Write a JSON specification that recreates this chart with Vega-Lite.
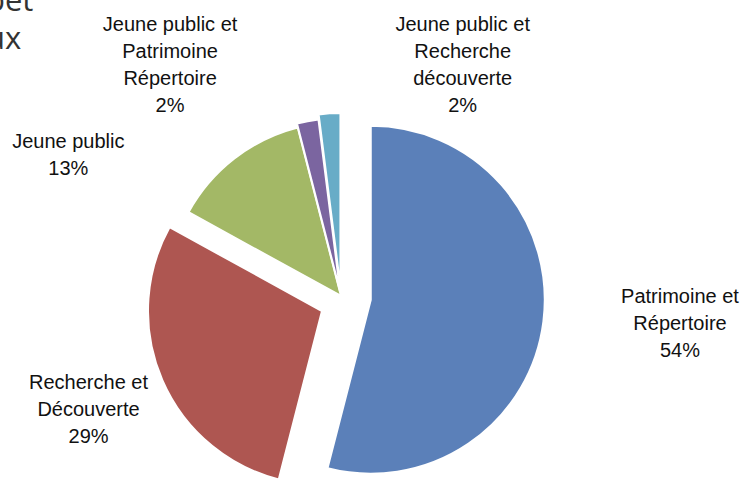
{
  "$schema": "https://vega.github.io/schema/vega-lite/v6.json",
  "width": 682,
  "height": 592,
  "autosize": {"type": "none"},
  "padding": {"left": 0, "top": 0, "right": 62, "bottom": 0},
  "background": "white",
  "config": {"view": {"stroke": null}},
  "title": {
    "text": ["\u00a0\u00a0bet", "ux"],
    "anchor": "start",
    "frame": "group",
    "font": "Open Sans",
    "fontSize": 31,
    "fontWeight": "normal",
    "color": "#333333",
    "lineHeight": 38,
    "dx": -14,
    "dy": 60
  },
  "data": {
    "values": [
      {"rank": 1, "cat": "Patrimoine et Répertoire", "value": 54, "label": "Patrimoine et\nRépertoire\n54%"},
      {"rank": 2, "cat": "Recherche et Découverte", "value": 29, "label": "Recherche et\nDécouverte\n29%"},
      {"rank": 3, "cat": "Jeune public", "value": 13, "label": "Jeune public\n13%"},
      {"rank": 4, "cat": "Jeune public et Patrimoine Répertoire", "value": 2, "label": "Jeune public et\nPatrimoine\nRépertoire\n2%"},
      {"rank": 5, "cat": "Jeune public et Recherche découverte", "value": 2, "label": "Jeune public et\nRecherche\ndécouverte\n2%"}
    ]
  },
  "layer": [
    {
      "mark": {
        "type": "arc",
        "outerRadius": 174,
        "stroke": "white",
        "strokeWidth": 2,
        "xOffset": {"expr": "datum.rank===2?-19:(datum.rank===1?30:datum.rank===5?9:datum.rank===4?4:0)*sin(PI*(datum.value_start+datum.value_end))"},
        "yOffset": {"expr": "datum.rank===2?15:-(datum.rank===1?30:datum.rank===5?9:datum.rank===4?4:0)*cos(PI*(datum.value_start+datum.value_end))"}
      },
      "encoding": {
        "theta": {"field": "value", "type": "quantitative", "stack": "normalize"},
        "order": {"field": "rank", "type": "quantitative"},
        "color": {
          "field": "cat",
          "type": "nominal",
          "legend": null,
          "scale": {
            "domain": ["Patrimoine et Répertoire", "Recherche et Découverte", "Jeune public", "Jeune public et Patrimoine Répertoire", "Jeune public et Recherche découverte"],
            "range": ["#5B80B9", "#AE5651", "#A3B866", "#7B65A0", "#68ACC7"]
          }
        }
      }
    },
    {
      "mark": {
        "type": "text",
        "font": "Liberation Sans",
        "fontSize": 20,
        "lineHeight": 27,
        "color": "#111111",
        "align": "center",
        "baseline": "middle",
        "lineBreak": "\n",
        "radius": {"expr": "datum.rank===1?339:datum.rank===2?267:datum.rank===3?313:datum.rank===4?320:297"},
        "thetaOffset": {"expr": "datum.rank===1?-0.122:datum.rank===2?0.077:datum.rank===3?-0.398:datum.rank===4?-0.375:0.485"}
      },
      "encoding": {
        "theta": {"field": "value", "type": "quantitative", "stack": "normalize"},
        "order": {"field": "rank", "type": "quantitative"},
        "text": {"field": "label", "type": "nominal"}
      }
    }
  ]
}
